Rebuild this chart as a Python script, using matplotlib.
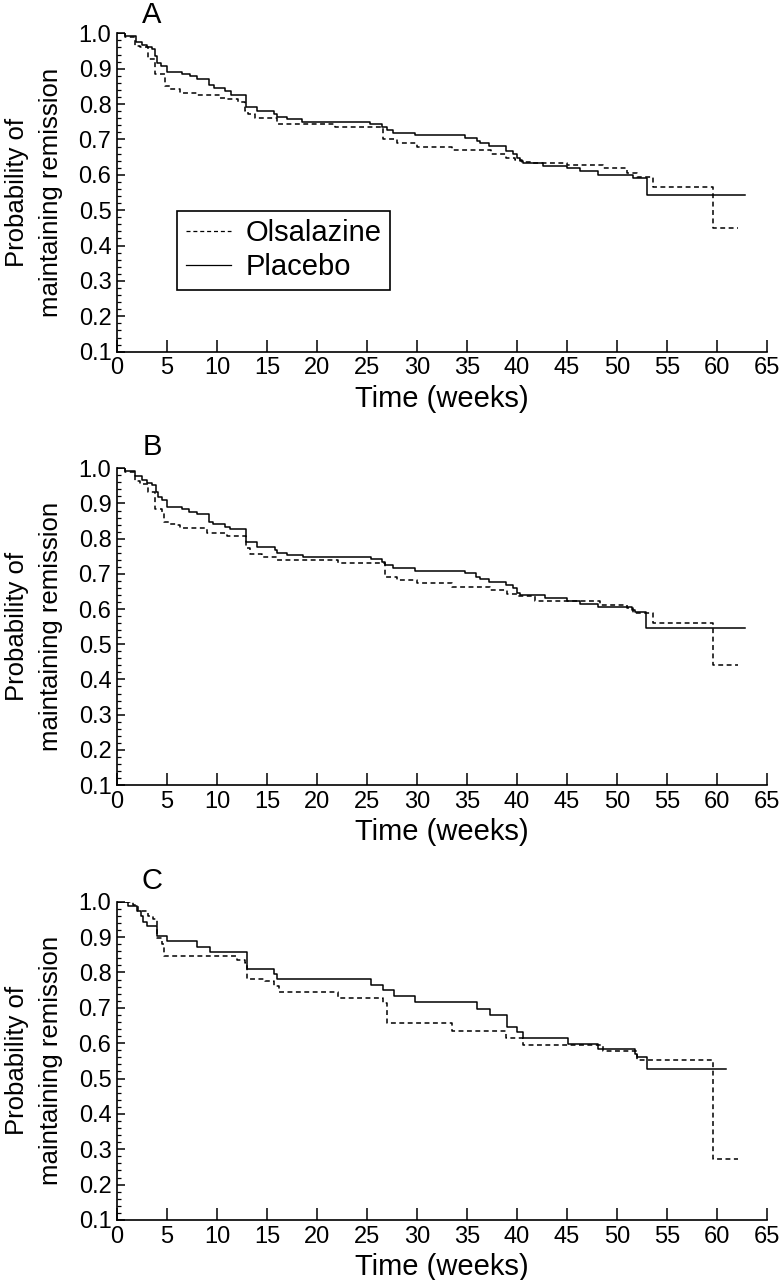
import matplotlib
matplotlib.use("Agg")
import matplotlib.pyplot as plt
from matplotlib.ticker import MultipleLocator

plt.rcParams['font.family'] = ['Liberation Sans', 'DejaVu Sans']

# ---- Data ----
panel_labels = ["A", "B", "C"]
series_names = ["Olsalazine", "Placebo"]

# Panel A
a_ols_t = [0, 0.8, 1.8, 2.3, 3.1, 3.8, 4.8, 5.3, 6.3, 8.0, 10.3, 10.8, 12.1, 12.8, 13.1, 13.8,
           16.0, 21.8, 26.6, 28.0, 30.0, 33.5, 37.4, 38.9, 39.8, 40.5, 41.6, 45.0, 48.6, 51.0,
           52.0, 53.6, 59.6]
a_ols_s = [1.0, 0.989, 0.965, 0.96, 0.928, 0.884, 0.851, 0.842, 0.83, 0.825, 0.817, 0.814, 0.806,
           0.78, 0.771, 0.761, 0.745, 0.736, 0.70, 0.691, 0.68, 0.669, 0.658, 0.648, 0.642, 0.636,
           0.632, 0.627, 0.618, 0.606, 0.593, 0.565, 0.45]
a_ols_end = 62.1
a_pla_t = [0, 0.8, 1.9, 2.5, 3.0, 3.5, 3.8, 4.0, 4.4, 5.0, 6.5, 7.3, 8.0, 9.2, 9.7, 10.8, 11.4,
           12.9, 14.0, 15.7, 16.0, 17.0, 18.5, 25.3, 26.5, 27.0, 27.6, 29.8, 34.8, 36.0, 36.3,
           37.2, 38.9, 39.6, 40.0, 40.3, 40.6, 42.6, 45.0, 46.3, 48.1, 51.6, 53.0]
a_pla_s = [1.0, 0.993, 0.975, 0.966, 0.96, 0.955, 0.936, 0.917, 0.908, 0.892, 0.884, 0.878, 0.871,
           0.855, 0.844, 0.836, 0.826, 0.793, 0.78, 0.771, 0.764, 0.757, 0.75, 0.743, 0.736, 0.726,
           0.719, 0.713, 0.703, 0.696, 0.689, 0.681, 0.667, 0.658, 0.648, 0.639, 0.632, 0.625,
           0.618, 0.61, 0.60, 0.591, 0.542]
a_pla_end = 62.8

# Panel B
b_ols_t = [0, 0.8, 1.8, 2.3, 3.1, 3.8, 4.5, 4.7, 5.3, 6.0, 6.3, 9.0, 11.0, 12.9, 13.3, 14.5, 16.0,
           22.1, 26.8, 28.0, 30.0, 33.5, 37.3, 39.0, 40.0, 41.8, 48.3, 51.0, 51.6, 53.6, 59.6]
b_ols_s = [1.0, 0.99, 0.964, 0.956, 0.933, 0.883, 0.873, 0.848, 0.843, 0.839, 0.829, 0.815, 0.808,
           0.773, 0.756, 0.749, 0.74, 0.73, 0.692, 0.683, 0.674, 0.662, 0.653, 0.643, 0.638, 0.624,
           0.612, 0.603, 0.589, 0.56, 0.44]
b_ols_end = 62.1
b_pla_t = [0, 0.8, 1.8, 2.5, 3.0, 3.5, 3.9, 4.1, 4.5, 5.0, 6.5, 7.2, 8.0, 9.2, 9.6, 10.8, 11.3,
           12.9, 14.0, 15.8, 16.0, 17.0, 18.6, 25.4, 26.5, 26.8, 27.6, 29.8, 34.8, 35.9, 36.3,
           37.2, 38.9, 39.6, 40.0, 40.3, 42.8, 45.0, 46.3, 48.1, 51.5, 51.8, 52.9]
b_pla_s = [1.0, 0.992, 0.977, 0.966, 0.958, 0.952, 0.933, 0.919, 0.909, 0.891, 0.883, 0.876, 0.87,
           0.848, 0.842, 0.834, 0.827, 0.791, 0.776, 0.768, 0.76, 0.754, 0.747, 0.742, 0.735, 0.726,
           0.716, 0.709, 0.702, 0.692, 0.685, 0.677, 0.669, 0.66, 0.647, 0.639, 0.631, 0.624,
           0.615, 0.605, 0.598, 0.593, 0.546]
b_pla_end = 62.8

# Panel C
c_ols_t = [0, 1.6, 2.1, 3.1, 3.6, 4.0, 4.5, 4.7, 12.0, 12.8, 13.0, 14.8, 15.7, 16.2, 22.1, 26.6,
           27.0, 33.5, 38.9, 40.6, 48.6, 52.0, 59.6]
c_ols_s = [1.0, 0.99, 0.975, 0.96, 0.952, 0.897, 0.881, 0.847, 0.836, 0.828, 0.781, 0.775, 0.762,
           0.746, 0.727, 0.713, 0.657, 0.635, 0.614, 0.595, 0.578, 0.553, 0.273]
c_ols_end = 62.1
c_pla_t = [0, 1.1, 2.0, 2.4, 2.6, 3.0, 4.0, 5.0, 8.0, 9.3, 13.0, 15.7, 16.0, 25.4, 26.6, 27.7,
           29.8, 36.0, 37.3, 39.0, 40.0, 40.6, 45.1, 48.1, 51.8, 52.0, 53.0]
c_pla_s = [1.0, 0.989, 0.975, 0.96, 0.944, 0.93, 0.902, 0.888, 0.872, 0.858, 0.81, 0.796, 0.782,
           0.765, 0.749, 0.732, 0.715, 0.697, 0.68, 0.647, 0.631, 0.614, 0.598, 0.583, 0.57,
           0.562, 0.527]
c_pla_end = 60.9

x_ticks = list(range(0, 70, 5))
y_ticks = [0.1, 0.2, 0.3, 0.4, 0.5, 0.6, 0.7, 0.8, 0.9, 1.0]

panels = [
    (a_ols_t, a_ols_s, a_ols_end, a_pla_t, a_pla_s, a_pla_end),
    (b_ols_t, b_ols_s, b_ols_end, b_pla_t, b_pla_s, b_pla_end),
    (c_ols_t, c_ols_s, c_ols_end, c_pla_t, c_pla_s, c_pla_end),
]

# ---- Figure ----
W, H = 781, 1280
fig = plt.figure(figsize=(W / 100, H / 100), dpi=100)

left_px, right_px = 117, 767
axes_px = [(33.3, 351.7), (468.3, 785.0), (901.7, 1220.0)]
letter_y = [15, 447, 881]

dash = (0, (3.2, 2.3))
lw = 1.1

for i, ((ot, os_, oe, pt, ps, pe), (top, bot)) in enumerate(zip(panels, axes_px)):
    ax = fig.add_axes([left_px / W, 1 - bot / H, (right_px - left_px) / W, (bot - top) / H])
    ax.step(ot + [oe], os_ + [os_[-1]], where='post', color='black', lw=lw,
            linestyle=dash, label=series_names[0])
    ax.step(pt + [pe], ps + [ps[-1]], where='post', color='black', lw=lw,
            linestyle='-', label=series_names[1])
    ax.set_xlim(0, 65)
    ax.set_ylim(0.1, 1.0)
    ax.set_xticks(x_ticks)
    ax.set_yticks(y_ticks)
    ax.set_yticklabels([f"{v:.1f}" for v in y_ticks])
    ax.yaxis.set_minor_locator(MultipleLocator(0.02))
    for s in ['top', 'right']:
        ax.spines[s].set_visible(False)
    for s in ['left', 'bottom']:
        ax.spines[s].set_linewidth(1.2)
    ax.tick_params(axis='x', which='major', direction='in', length=9, width=1.1,
                   labelsize=17, pad=4)
    ax.tick_params(axis='y', which='major', direction='in', length=5.5, width=1.1,
                   labelsize=17, pad=4)
    ax.tick_params(axis='y', which='minor', direction='in', length=3, width=0.9)
    ax.set_xlabel("Time (weeks)", fontsize=21, labelpad=4)
    fig.text(34 / W, 1 - (top + bot) / 2 / H, "Probability of\nmaintaining remission",
             rotation=90, fontsize=18.5, ha='center', va='center', multialignment='center',
             linespacing=1.5)
    fig.text(152 / W, 1 - letter_y[i] / H, panel_labels[i], fontsize=21,
             ha='center', va='center')
    if i == 0:
        leg = ax.legend(loc='upper left', bbox_to_anchor=(0.092, 0.443), borderaxespad=0,
                        fontsize=21, frameon=True, fancybox=False, framealpha=1,
                        edgecolor='black', handlelength=1.55, handletextpad=0.5,
                        labelspacing=0.2, borderpad=0.3)
        leg.get_frame().set_linewidth(1.2)
        for h in leg.get_lines():
            h.set_linewidth(0.9)

fig.savefig("out.png", dpi=100)
